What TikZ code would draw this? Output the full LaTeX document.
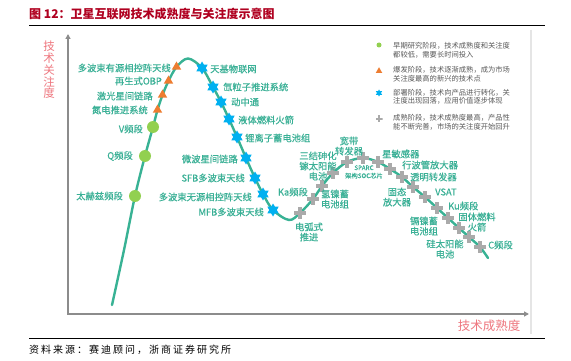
\documentclass[tikz,border=0pt]{standalone}
\usepackage{fontspec}
\setmainfont{Noto Sans CJK SC}
\newfontfamily\srcfont[LetterSpace=20]{Noto Sans CJK SC}
\newfontfamily\labfont[FakeBold=0.5]{Noto Sans CJK SC}
\usetikzlibrary{arrows.meta,shapes.geometric}
\definecolor{curveteal}{RGB}{56,178,148}
\definecolor{lbl}{RGB}{58,176,150}
\definecolor{dotgreen}{RGB}{146,208,80}
\definecolor{triorange}{RGB}{237,125,49}
\definecolor{starblue}{RGB}{0,176,240}
\definecolor{crossgray}{RGB}{170,170,170}
\definecolor{axisgray}{RGB}{140,140,140}
\definecolor{axislbl}{RGB}{238,118,126}
\definecolor{titlered}{RGB}{176,0,32}
\definecolor{legtext}{RGB}{89,89,89}
\begin{document}
\begin{tikzpicture}[x=1pt,y=-1pt,
  dotmk/.style={circle, fill=dotgreen, minimum size=#1, inner sep=0},
  dotmk/.default=12pt,
  trimk/.style={regular polygon, regular polygon sides=3, fill=triorange, minimum size=#1, inner sep=0},
  trimk/.default=11pt,
  starmk/.style={star, star points=6, star point ratio=1.7, fill=starblue, minimum size=#1, inner sep=0},
  starmk/.default=13pt,
  crossmk/.style={rectangle, minimum size=12pt, inner sep=0, path picture={
     \fill[crossgray] ([xshift=-6pt,yshift=-2.2pt]path picture bounding box.center) rectangle ([xshift=6pt,yshift=2.2pt]path picture bounding box.center);
     \fill[crossgray] ([xshift=-2.2pt,yshift=-6pt]path picture bounding box.center) rectangle ([xshift=2.2pt,yshift=6pt]path picture bounding box.center);}},
  crossmksmall/.style={rectangle, minimum size=7pt, inner sep=0, path picture={
     \fill[crossgray] ([xshift=-3.5pt,yshift=-1.3pt]path picture bounding box.center) rectangle ([xshift=3.5pt,yshift=1.3pt]path picture bounding box.center);
     \fill[crossgray] ([xshift=-1.3pt,yshift=-3.5pt]path picture bounding box.center) rectangle ([xshift=1.3pt,yshift=3.5pt]path picture bounding box.center);}},
  lab/.style={text=lbl, font=\fontsize{9.3}{10.2}\selectfont\labfont, inner sep=0, align=center},
  smalllab/.style={text=lbl, font=\fontsize{6.3}{8}\selectfont\labfont, inner sep=0, align=center},
  legtxt/.style={text=legtext, font=\fontsize{7.3}{8.6}\selectfont, align=left, anchor=west, inner sep=0},
  axisline/.style={draw=axisgray, line width=1.8pt, -{Triangle[length=5pt,width=5pt]}},
  rule/.style={draw=black, line width=1pt},
  curve/.style={draw=curveteal, line width=2.4pt, line cap=round}
]
\useasboundingbox (0,0) rectangle (571,361);
\fill[white] (0,0) rectangle (571,361);

% title and rules
\node[anchor=west, inner sep=0, text=titlered, font=\fontsize{12}{14}\selectfont\bfseries] (title) at (29,14) {图 12：卫星互联网技术成熟度与关注度示意图};
\coordinate (r1a) at (29,26); \coordinate (r1b) at (545,26);
\draw[rule] (r1a) -- (r1b);
\coordinate (r2a) at (29,338); \coordinate (r2b) at (545,338);
\draw[rule] (r2a) -- (r2b);
\node[anchor=west, inner sep=0, text=black, font=\fontsize{10}{12}\selectfont\srcfont] (source) at (29,350) {资料来源：赛迪顾问，浙商证券研究所};

% panel edge
\coordinate (pe1) at (531,30); \coordinate (pe2) at (531,334);
\draw[black!10, line width=1.5pt] (pe1) -- (pe2);

% axes
\coordinate (O) at (68,314);
\coordinate (ytop) at (68,34);
\coordinate (xend) at (529,314);
\draw[axisline] (O) -- (ytop);
\draw[axisline] ([xshift=-0.9pt]O) -- (xend);
\node[text=axislbl, font=\fontsize{11.5}{11.8}\selectfont, align=center, inner sep=0] (ylab) at (49,70) {技\\术\\关\\注\\度};
\node[text=axislbl, font=\fontsize{12.5}{14}\selectfont, inner sep=0] (xlab) at (489,326) {技术成熟度};

% curve points
\coordinate (c0) at (112,305);
\coordinate (c0b) at (124,250);
\coordinate (g1) at (135,196);
\coordinate (g2) at (145,156);
\coordinate (g3) at (153,127);
\coordinate (t1) at (157.5,110);
\coordinate (t2) at (162.5,95);
\coordinate (t3) at (168.5,81);
\coordinate (t4) at (176.5,67);
\coordinate (pk) at (188,58.5);
\coordinate (s1) at (202,68);
\coordinate (s2) at (213,87);
\coordinate (s3) at (221,102);
\coordinate (s4) at (229,119);
\coordinate (s5) at (237,137);
\coordinate (s6) at (246,158);
\coordinate (s7) at (255,178);
\coordinate (s8) at (263,194);
\coordinate (s9) at (273,210);
\coordinate (tr) at (289,220);
\coordinate (x1) at (300,213);
\coordinate (x2) at (313,199);
\coordinate (x3) at (322,186);
\coordinate (x4) at (333,173);
\coordinate (x5) at (347,162);
\coordinate (x6) at (363,158);
\coordinate (x7) at (378,162);
\coordinate (x8) at (390,169);
\coordinate (x9) at (402,177);
\coordinate (x10) at (413,187);
\coordinate (x11) at (425,197);
\coordinate (x12) at (437,208);
\coordinate (x13) at (448,218);
\coordinate (x14) at (459,228);
\coordinate (x15) at (469,237);
\coordinate (x16) at (480,247);
\coordinate (ce) at (488,258);

\draw[curve] plot[smooth, tension=0.55] coordinates {(c0) (c0b) (g1) (g2) (g3) (t1) (t2) (t3) (t4) (pk) (s1) (s2) (s3) (s4) (s5) (s6) (s7) (s8) (s9) (tr) (x1) (x2) (x3) (x4) (x5) (x6) (x7) (x8) (x9) (x10) (x11) (x12) (x13) (x14) (x15) (x16) (ce)};

% markers
\node[dotmk] (mg1) at (g1) {};
\node[dotmk] (mg2) at (g2) {};
\node[dotmk] (mg3) at (g3) {};
\foreach \n in {t1,t2,t3,t4} \node[trimk] (m\n) at (\n) {};
\foreach \n in {s1,s2,s3,s4,s5,s6,s7,s8,s9} \node[starmk] (m\n) at (\n) {};
\foreach \n in {x1,x2,x3,x4,x5,x6,x7,x8,x9,x10,x11,x12,x13,x14,x15,x16} \node[crossmk] (m\n) at (\n) {};

% left labels
\node[lab, anchor=east] (lt4) at (171,68) {多波束有源相控阵天线};
\node[lab, anchor=east] (lt3) at (162,81) {再生式OBP};
\node[lab, anchor=east] (lt2) at (153,96) {激光星间链路};
\node[lab, anchor=east] (lt1) at (148,110) {氮电推进系统};
\node[lab, anchor=east] (lg3) at (143,129) {V频段};
\node[lab, anchor=east] (lg2) at (133,156) {Q频段};
\node[lab, anchor=east] (lg1) at (123,196) {太赫兹频段};
% star labels
\node[lab, anchor=west] (ls1) at (210,69) {天基物联网};
\node[lab, anchor=west] (ls2) at (223,87) {氙粒子推进系统};
\node[lab, anchor=west] (ls3) at (231,102) {动中通};
\node[lab, anchor=west] (ls4) at (238,120) {液体燃料火箭};
\node[lab, anchor=west] (ls5) at (245,138) {锂离子蓄电池组};
\node[lab, anchor=east] (ls6) at (238,159) {微波星间链路};
\node[lab, anchor=east] (ls7) at (245,178) {SFB多波束天线};
\node[lab, anchor=east] (ls8) at (252,197) {多波束无源相控阵天线};
\node[lab, anchor=east] (ls9) at (264,212) {MFB多波束天线};
% cross labels
\node[lab] (lx1) at (309,232) {电弧式\\推进};
\node[lab, anchor=east] (lx2) at (308,192) {Ka频段};
\node[lab] (lx3) at (335,199) {氢镍蓄\\电池组};
\node[lab] (lx4) at (318,166) {三结砷化\\镓太阳能\\电池};
\node[lab] (lx5) at (349,146) {宽带\\转发器};
\node[smalllab] (lx6) at (364,172) {SPARC\\架构SOC芯片};
\node[lab, anchor=west] (lx7) at (382,154) {星敏感器};
\node[lab, anchor=west] (lx8) at (402,165) {行波管放大器};
\node[lab, anchor=west] (lx9) at (410,177) {透明转发器};
\node[lab] (lx10) at (397,197) {固态\\放大器};
\node[lab, anchor=west] (lx11) at (435,192) {VSAT};
\node[lab, anchor=west] (lx12) at (448,206) {Ku频段};
\node[lab] (lx13) at (424,226) {镉镍蓄\\电池组};
\node[lab] (lx14) at (477,222) {固体燃料\\火箭};
\node[lab] (lx15) at (445,249) {硅太阳能\\电池};
\node[lab, anchor=west] (lx16) at (488,245) {C频段};

% legend
\node[dotmk=5pt] (lg1m) at (379,45) {};
\node[legtxt] (lg1t) at (393,50) {早期研究阶段，技术成熟度和关注度\\都较低，需要长时间投入};
\node[trimk=7.5pt] (lg2m) at (379,71) {};
\node[legtxt] (lg2t) at (393,74) {爆发阶段，技术逐渐成熟，成为市场\\关注度最高的新兴的技术点};
\node[starmk=7pt] (lg3m) at (379,93) {};
\node[legtxt] (lg3t) at (393,97) {部署阶段，技术向产品进行转化，关\\注度出现回落，应用价值逐步体现};
\node[crossmksmall] (lg4m) at (379,119) {};
\node[legtxt] (lg4t) at (393,122.5) {成熟阶段，技术成熟度最高，产品性\\能不断完善，市场的关注度开始回升};
\end{tikzpicture}
\end{document}
